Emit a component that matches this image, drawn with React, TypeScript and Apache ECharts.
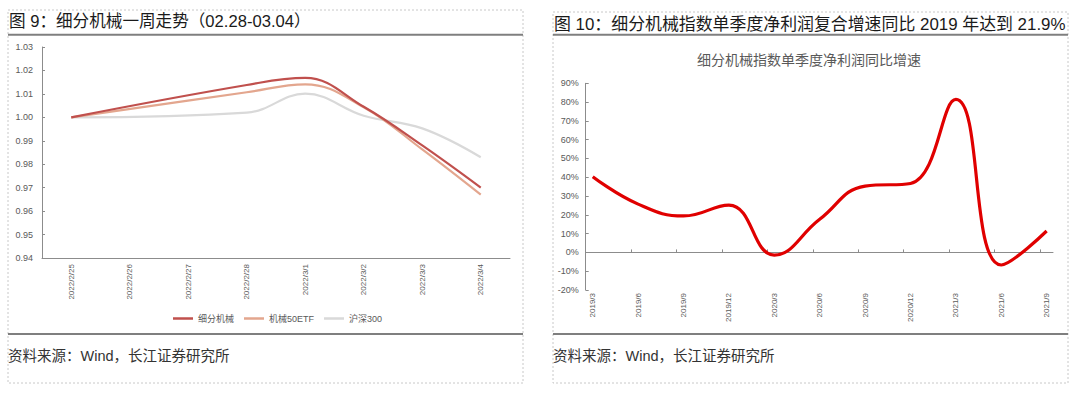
import React, { useEffect, useRef } from "react";
import * as echarts from "echarts";

const dates = ["2022/2/25", "2022/2/26", "2022/2/27", "2022/2/28", "2022/3/1", "2022/3/2", "2022/3/3", "2022/3/4"];
const machinery = [1.0, null, null, 1.0138, 1.0168, 1.0045, 0.988, 0.97];
const etf50 = [1.0, null, null, 1.0107, 1.0141, 1.0043, 0.9863, 0.967];
const hs300 = [1.0, null, null, 1.002, 1.0101, 1.0007, 0.9953, 0.983];
const leftNames = ["细分机械", "机械50ETF", "沪深300"];

const quarters = ["2019/3", "2019/6", "2019/9", "2019/12", "2020/3", "2020/6", "2020/9", "2020/12", "2021/3", "2021/6", "2021/9"];
const growth = [40.3, 25.7, 19.4, 25.2, -1.4, 17.6, 35.3, 36.7, 81.4, -6.7, 11.4];

const leftTitle = "图 9：细分机械一周走势（02.28-03.04）";
const rightTitle = "图 10：细分机械指数单季度净利润复合增速同比 2019 年达到 21.9%";
const rightSub = "细分机械指数单季度净利润同比增速";
const source = "资料来源：Wind，长江证券研究所";

const FONT = '"Liberation Sans", "Noto Sans CJK SC", sans-serif';
const GRAY = "#595959";

export default function App() {
  const ref = useRef<HTMLDivElement>(null);
  useEffect(() => {
    const chart = echarts.init(ref.current!, null, { renderer: "svg" });
    const idx = quarters.map((_, i) => i);
    const tickPos = quarters.slice(1).map((_, i) => i + 0.85);
    const dash = { stroke: "#C8C8C8", lineWidth: 1, lineDash: [2, 2], fill: "none" };
    const solid = { stroke: "#7F7F7F", lineWidth: 2 };
    chart.setOption({
      animation: false,
      textStyle: { fontFamily: FONT },
      grid: [
        { left: 42, top: 47, width: 468, height: 211 },
        { left: 585.7, top: 83.3, width: 467.3, height: 206.7 },
      ],
      legend: {
        left: 168,
        top: 309,
        itemWidth: 20,
        itemHeight: 2.5,
        itemGap: 10,
        icon: "rect",
        textStyle: { fontSize: 9, color: GRAY, fontFamily: FONT },
        data: leftNames,
      },
      xAxis: [
        {
          type: "category",
          gridIndex: 0,
          data: dates,
          boundaryGap: true,
          axisLine: { lineStyle: { color: "#8C8C8C", width: 1 } },
          axisTick: { inside: true, length: 3, lineStyle: { color: "#8C8C8C" } },
          axisLabel: { rotate: 90, fontSize: 8, color: GRAY, margin: 6, interval: 0 },
        },
        {
          type: "value",
          gridIndex: 1,
          min: -0.155,
          max: 10.14,
          axisLine: { onZero: true, lineStyle: { color: "#8C8C8C", width: 1 } },
          axisTick: { show: true, inside: true, length: 3, customValues: tickPos, lineStyle: { color: "#8C8C8C" } },
          axisLabel: { show: false },
          splitLine: { show: false },
        },
        {
          type: "value",
          gridIndex: 1,
          position: "bottom",
          min: -0.155,
          max: 10.14,
          axisLine: { show: false, onZero: false },
          axisTick: { show: false },
          axisLabel: {
            rotate: 90,
            fontSize: 8,
            color: GRAY,
            margin: 3,
            customValues: idx,
            formatter: (v: number) => quarters[Math.round(v)],
          },
          splitLine: { show: false },
        },
      ],
      yAxis: [
        {
          type: "value",
          gridIndex: 0,
          min: 0.94,
          max: 1.03,
          interval: 0.01,
          axisLine: { show: true, lineStyle: { color: "#8C8C8C", width: 1 } },
          axisTick: { show: true, inside: true, length: 3, lineStyle: { color: "#8C8C8C" } },
          axisLabel: { fontSize: 9, color: GRAY, margin: 9, formatter: (v: number) => v.toFixed(2) },
          splitLine: { show: false },
        },
        {
          type: "value",
          gridIndex: 1,
          min: -20,
          max: 90,
          interval: 10,
          axisLine: { show: true, onZero: false, lineStyle: { color: "#8C8C8C", width: 1 } },
          axisTick: { show: true, inside: true, length: 3, lineStyle: { color: "#8C8C8C" } },
          axisLabel: { fontSize: 9, color: GRAY, margin: 7, formatter: (v: number) => Math.round(v) + "%" },
          splitLine: { show: false },
        },
      ],
      series: [
        {
          name: leftNames[0],
          type: "line",
          xAxisIndex: 0,
          yAxisIndex: 0,
          data: machinery,
          connectNulls: true,
          smooth: 0.4,
          showSymbol: false,
          symbol: "none",
          itemStyle: { color: "#C0504D" },
          lineStyle: { color: "#C0504D", width: 2.2 },
          z: 4,
        },
        {
          name: leftNames[1],
          type: "line",
          xAxisIndex: 0,
          yAxisIndex: 0,
          data: etf50,
          connectNulls: true,
          smooth: 0.4,
          showSymbol: false,
          symbol: "none",
          itemStyle: { color: "#E3A68E" },
          lineStyle: { color: "#E3A68E", width: 2.2 },
          z: 3,
        },
        {
          name: leftNames[2],
          type: "line",
          xAxisIndex: 0,
          yAxisIndex: 0,
          data: hs300,
          connectNulls: true,
          smooth: 0.4,
          showSymbol: false,
          symbol: "none",
          itemStyle: { color: "#D9D9D9" },
          lineStyle: { color: "#D9D9D9", width: 2.2 },
          z: 2,
        },
        {
          name: rightSub,
          type: "line",
          xAxisIndex: 1,
          yAxisIndex: 1,
          data: growth.map((v, i) => [i, v]),
          smooth: 0.45,
          showSymbol: false,
          symbol: "none",
          itemStyle: { color: "#E00000" },
          lineStyle: { color: "#E00000", width: 3.2 },
        },
      ],
      graphic: [
        { type: "rect", shape: { x: 8, y: 10, width: 515, height: 373 }, style: dash, silent: true },
        { type: "rect", shape: { x: 553, y: 12, width: 515, height: 371 }, style: dash, silent: true },
        { type: "line", shape: { x1: 8, y1: 34.7, x2: 523, y2: 34.7 }, style: solid },
        { type: "line", shape: { x1: 553, y1: 34.7, x2: 1068, y2: 34.7 }, style: solid },
        { type: "line", shape: { x1: 8, y1: 334, x2: 523, y2: 334 }, style: solid },
        { type: "line", shape: { x1: 553, y1: 334, x2: 1068, y2: 334 }, style: solid },
        {
          type: "text",
          x: 9,
          y: 21,
          style: { text: leftTitle, fontSize: 16.6, fill: "#1a1a1a", fontFamily: FONT, textVerticalAlign: "middle" },
        },
        {
          type: "text",
          x: 554,
          y: 24,
          style: { text: rightTitle, fontSize: 16.9, fill: "#1a1a1a", fontFamily: FONT, textVerticalAlign: "middle" },
        },
        {
          type: "text",
          x: 809,
          y: 60,
          style: { text: rightSub, fontSize: 14, fill: GRAY, fontFamily: FONT, textAlign: "center", textVerticalAlign: "middle" },
        },
        {
          type: "text",
          x: 8,
          y: 356,
          style: { text: source, fontSize: 14.5, fill: "#333333", fontFamily: FONT, textVerticalAlign: "middle" },
        },
        {
          type: "text",
          x: 553,
          y: 356,
          style: { text: source, fontSize: 14.5, fill: "#333333", fontFamily: FONT, textVerticalAlign: "middle" },
        },
      ],
    });
    return () => chart.dispose();
  }, []);
  return <div ref={ref} style={{ position: "absolute", left: 0, top: 0, width: 1080, height: 394, background: "#fff" }} />;
}
